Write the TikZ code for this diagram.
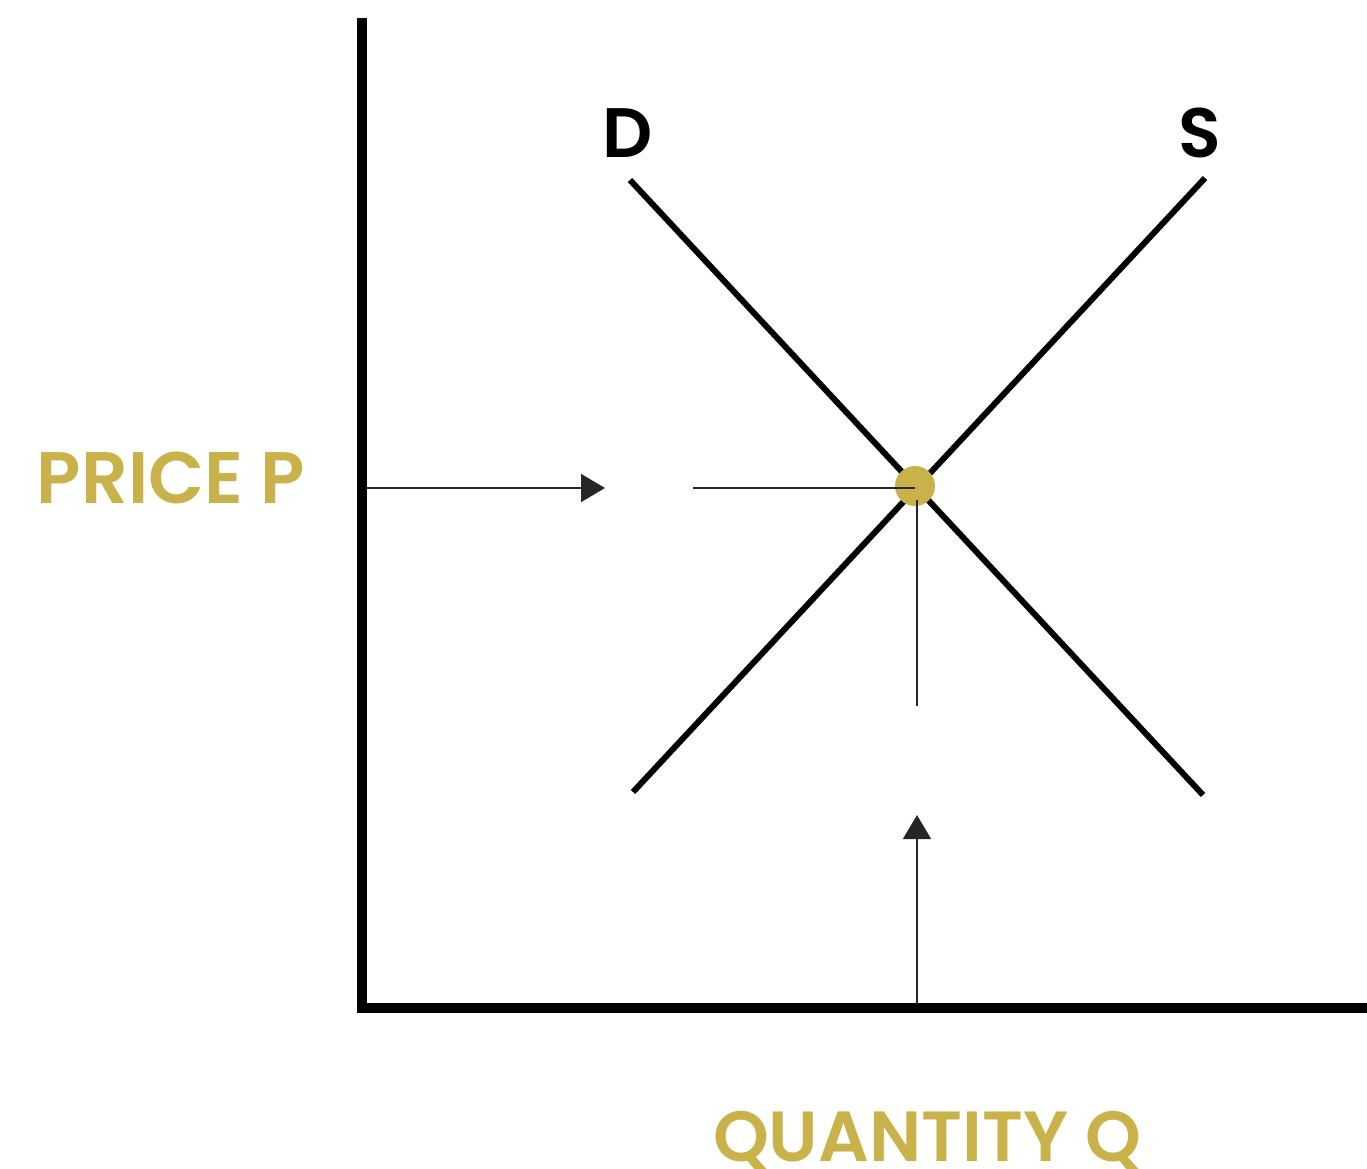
\documentclass[tikz,border=0pt]{standalone}
\usepackage{fontspec}
\setmainfont{Poppins}[BoldFont={* SemiBold}]
\usetikzlibrary{arrows.meta}
\definecolor{gold}{HTML}{C9B24A}
\tikzset{
  axis/.style={line width=10pt, line cap=rect},
  curve/.style={line width=6pt},
  guide/.style={line width=1.6pt, black!85},
  guidearrow/.style={guide, -{Triangle[length=24pt,width=28pt]}},
  curvelabel/.style={font=\fontsize{70}{70}\selectfont\bfseries, text=black, inner sep=0pt},
  axislabel/.style={text=gold, inner sep=0pt},
}
\begin{document}
\begin{tikzpicture}[x=1pt,y=-1pt]
\useasboundingbox (0,0) rectangle (1367,1168);
% axes
\coordinate (ytop) at (362,23);
\coordinate (origin) at (362,1008);
\coordinate (xend) at (1372,1008);
\draw[axis] (ytop) -- (origin) -- (xend);
% curves
\coordinate (d1) at (630,180);
\coordinate (d2) at (1203,795);
\coordinate (s1) at (633,792);
\coordinate (s2) at (1205,178);
\draw[curve] (d1) -- (d2);
\draw[curve] (s1) -- (s2);
% equilibrium
\node[circle, fill=gold, minimum size=40pt, inner sep=0pt] (eq) at (915,486) {};
% price guide
\coordinate (pa) at (367,488);
\coordinate (pb) at (605,488);
\coordinate (pc) at (693,488);
\draw[guidearrow] (pa) -- (pb);
\draw[guide] (pc) -- (eq.center |- pc);
% quantity guide
\coordinate (qa) at (917,1004);
\coordinate (qb) at (917,815);
\coordinate (qc) at (917,706);
\draw[guidearrow] (qa) -- (qb);
\draw[guide] (qc) -- (917,500);
% labels
\node[curvelabel, anchor=south] (dl) at (628,158) {D};
\node[curvelabel, anchor=south] (sl) at (1200,158) {S};
\node[axislabel, font=\fontsize{73}{73}\selectfont\bfseries, anchor=base] (pl) at (171,503) {PRICE P};
\node[axislabel, font=\fontsize{71}{71}\selectfont\bfseries, anchor=base] (ql) at (927,1161) {QUANTITY Q};
\end{tikzpicture}
\end{document}
